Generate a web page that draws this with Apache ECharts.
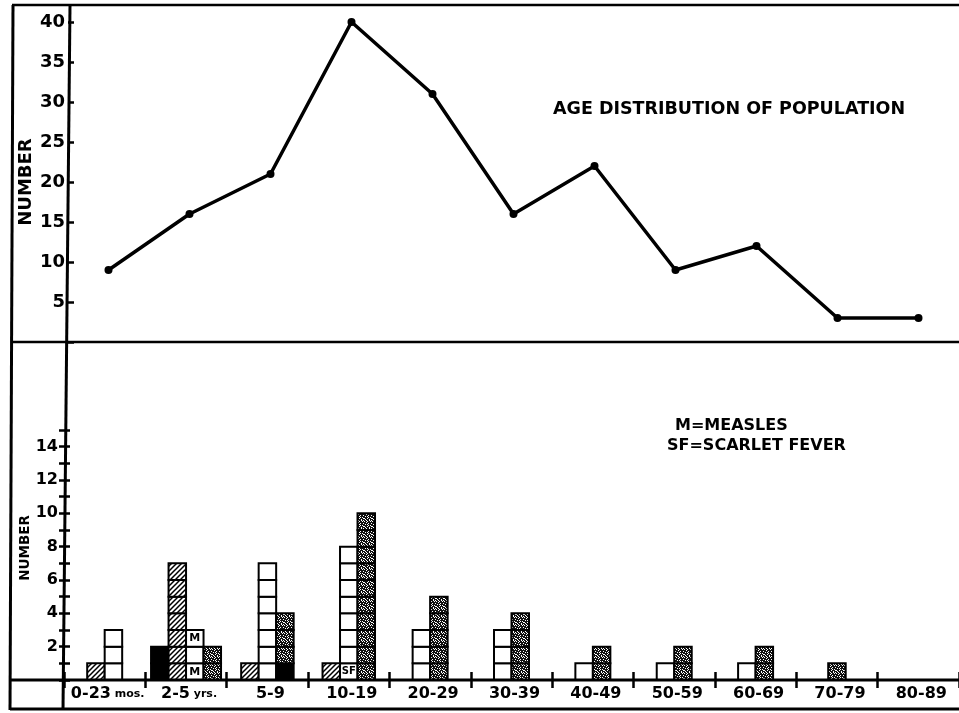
<!DOCTYPE html>
<html><head><meta charset="utf-8">
<script src="https://cdn.jsdelivr.net/npm/echarts@6/dist/echarts.min.js"></script>
<style>html,body{margin:0;padding:0;background:#fff}#c{width:959px;height:713px}</style>
</head><body><div id="c"></div>
<script>
// ---- data ----
const categories = ['0-23 mos.', '2-5 yrs.', '5-9', '10-19', '20-29', '30-39', '40-49', '50-59', '60-69', '70-79', '80-89'];
const population = [9, 16, 21, 40, 31, 16, 22, 9, 12, 3, 3];
const solidBars = [0, 2, 0, 0, 0, 0, 0, 0, 0, 0, 0];
const hatchedBars = [1, 7, 1, 1, 0, 0, 0, 0, 0, 0, 0];
const openBars = [3, 3, 7, 8, 3, 3, 1, 1, 1, 0, 0];
const stippledBars = [0, 2, 4, 10, 5, 4, 2, 2, 2, 1, 0];
const topAxisLabels = [5, 10, 15, 20, 25, 30, 35, 40];
const bottomAxisLabels = [2, 4, 6, 8, 10, 12, 14];
const cellNotes = [
  { cat: 1, bar: 'open', cell: 0, text: 'M' },
  { cat: 1, bar: 'open', cell: 2, text: 'M' },
  { cat: 3, bar: 'open', cell: 0, text: 'SF' },
  { cat: 2, bar: 'stippled', cell: 0, text: '', dark: true }
];
const titleText = 'AGE DISTRIBUTION OF POPULATION';
const legendLines = ['M=MEASLES', 'SF=SCARLET FEVER'];

// ---- patterns ----
function hatchCanvas() {
  const c = document.createElement('canvas'); c.width = 5; c.height = 5;
  const g = c.getContext('2d');
  g.fillStyle = '#fff'; g.fillRect(0, 0, 5, 5);
  g.strokeStyle = '#000'; g.lineWidth = 1.5;
  g.beginPath();
  g.moveTo(-1, 6); g.lineTo(6, -1);
  g.moveTo(-1, 1); g.lineTo(1, -1);
  g.moveTo(4, 6); g.lineTo(6, 4);
  g.stroke();
  return c;
}
function stippleCanvas() {
  const c = document.createElement('canvas'); c.width = 8; c.height = 8;
  const g = c.getContext('2d');
  g.fillStyle = '#111'; g.fillRect(0, 0, 8, 8);
  g.fillStyle = '#fff';
  const pts = [[1,0],[4,1],[6,0],[0,3],[3,3],[2,5],[5,4],[7,6],[1,7],[4,6],[6,2],[2,1],[5,7],[7,4],[3,6],[0,5],[3,0],[7,1]];
  pts.forEach(p => g.fillRect(p[0], p[1], 1, 1));
  return c;
}
const FONT = '"DejaVu Sans", sans-serif';
const barKinds = [
  { key: 'solid', name: 'Solid', values: solidBars, fill: '#000' },
  { key: 'hatched', name: 'Hatched', values: hatchedBars, fill: { image: hatchCanvas(), repeat: 'repeat' } },
  { key: 'open', name: 'Open', values: openBars, fill: '#fff' },
  { key: 'stippled', name: 'Stippled', values: stippledBars, fill: { image: stippleCanvas(), repeat: 'repeat' } }
];

function makeRender(kind) {
  return function (params, api) {
    const i = api.value(0), v = api.value(1);
    if (!v) return null;
    const base = api.coord([i, 0]);
    const unit = api.size([0, 1])[1];
    const bw = api.size([1, 0])[0] * 0.215;
    const present = barKinds.filter(k => k.values[i] > 0);
    const k = present.indexOf(kind);
    const x0 = base[0] - present.length * bw / 2 + k * bw;
    const children = [];
    for (let c = 0; c < v; c++) {
      const note = cellNotes.find(n => n.cat === i && n.bar === kind.key && n.cell === c);
      const y = base[1] - (c + 1) * unit;
      children.push({
        type: 'rect',
        shape: { x: x0, y: y, width: bw, height: unit },
        style: { fill: note && note.dark ? '#000' : kind.fill, stroke: '#000', lineWidth: 2 }
      });
      if (note && note.text) {
        children.push({
          type: 'text',
          style: { text: note.text, x: x0 + bw / 2, y: y + unit / 2, align: 'center', verticalAlign: 'middle',
                   font: 'bold ' + (note.text.length > 1 ? 10 : 11) + 'px ' + FONT, fill: '#000' }
        });
      }
    }
    return { type: 'group', children: children };
  };
}

const chart = echarts.init(document.getElementById('c'), null, { renderer: 'canvas' });
const frame = (x1, y1, x2, y2, w) => ({ type: 'line', silent: true, z: 50,
  shape: { x1, y1, x2, y2 }, style: { stroke: '#000', lineWidth: w } });

const axisText = { color: '#000', fontFamily: FONT, fontWeight: 'bold' };

chart.setOption({
  animation: false,
  backgroundColor: '#fff',
  grid: [
    { left: 68, top: 22, width: 892, height: 320 },
    { left: 64, top: 430, width: 898, height: 250 }
  ],
  xAxis: [
    { type: 'category', gridIndex: 0, position: 'bottom', data: categories, axisLine: { show: false }, axisTick: { show: false }, axisLabel: { show: false } },
    { type: 'category', gridIndex: 1, position: 'bottom', data: categories, axisLine: { show: false },
      axisTick: { show: true, length: 8, lineStyle: { color: '#000', width: 2.5 } },
      axisLabel: { interval: 0, margin: 6, padding: [0, 0, 0, 6],
        formatter: v => { const m = v.match(/^(\S+) (\S+)$/); return m ? '{a|' + m[1] + '}{b| ' + m[2] + '}' : '{a|' + v + '}'; },
        rich: { a: Object.assign({ fontSize: 16 }, axisText), b: Object.assign({ fontSize: 11 }, axisText) } } },
    { type: 'category', gridIndex: 1, position: 'bottom', data: categories, axisLine: { show: false },
      axisTick: { show: true, inside: true, length: 8, lineStyle: { color: '#000', width: 2.5 } },
      axisLabel: { show: false } }
  ],
  yAxis: [
    { type: 'value', gridIndex: 0, position: 'left', min: 0, max: 40, interval: 5, splitLine: { show: false },
      axisLine: { show: false },
      axisTick: { show: true, inside: true, length: 6, lineStyle: { color: '#000', width: 2.5 } },
      axisLabel: Object.assign({ fontSize: 18, margin: 3, formatter: v => topAxisLabels.includes(v) ? String(v) : '' }, axisText),
      name: 'NUMBER', nameLocation: 'middle', nameGap: 33, nameMoveOverlap: false,
      nameTextStyle: Object.assign({ fontSize: 18 }, axisText) },
    { type: 'value', gridIndex: 1, position: 'left', min: 0, max: 15, interval: 1, splitLine: { show: false },
      axisLine: { show: false },
      axisTick: { show: true, length: 5, lineStyle: { color: '#000', width: 2.5 } },
      axisLabel: Object.assign({ fontSize: 16, margin: 6, formatter: v => bottomAxisLabels.includes(v) ? String(v) : '' }, axisText),
      name: 'NUMBER', nameLocation: 'middle', nameGap: 32, nameMoveOverlap: false,
      nameTextStyle: Object.assign({ fontSize: 13.5, padding: [0, 0, 0, 14] }, axisText) },
    { type: 'value', gridIndex: 1, position: 'left', min: 0, max: 15, interval: 1, splitLine: { show: false },
      axisLine: { show: false }, axisLabel: { show: false },
      axisTick: { show: true, inside: true, length: 6, lineStyle: { color: '#000', width: 2.5 } } }
  ],
  series: [
    { type: 'line', name: 'Population', xAxisIndex: 0, yAxisIndex: 0, data: population,
      symbol: 'circle', symbolSize: 8, lineStyle: { color: '#000', width: 3.5 },
      itemStyle: { color: '#000' } }
  ].concat(barKinds.map(kind => ({
    type: 'custom', name: kind.name, xAxisIndex: 1, yAxisIndex: 1,
    data: kind.values.map((v, i) => [i, v]), encode: { x: 0, y: 1 },
    renderItem: makeRender(kind)
  }))),
  graphic: [
    frame(12, 5, 960, 5, 2.5),
    frame(13, 5, 10, 710, 3),
    frame(12, 342, 960, 342, 2.5),
    frame(10, 680, 960, 680, 3),
    frame(10, 709, 960, 709, 3),
    frame(70, 5, 63, 709, 3),
    { type: 'text', left: 553, top: 100, silent: true,
      style: { text: titleText, font: 'bold 17.5px ' + FONT, fill: '#000' } },
    { type: 'text', left: 675, top: 418, silent: true,
      style: { text: legendLines[0], font: 'bold 16px ' + FONT, fill: '#000' } },
    { type: 'text', left: 667, top: 438, silent: true,
      style: { text: legendLines[1], font: 'bold 16px ' + FONT, fill: '#000' } }
  ]
});
</script>
</body></html>
